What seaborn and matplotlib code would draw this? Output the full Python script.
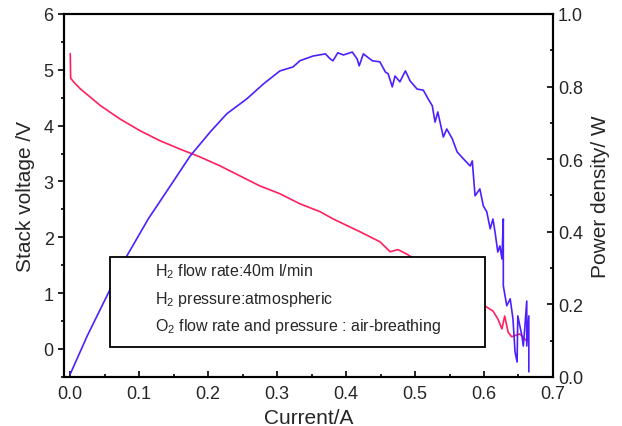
import matplotlib
matplotlib.use("Agg")
import matplotlib.pyplot as plt
import seaborn as sns
import pandas as pd
from matplotlib.patches import Rectangle
from matplotlib.ticker import MultipleLocator

# stack voltage vs current
volt_current = [0.0, 0.0005, 0.005, 0.0145, 0.03, 0.0435, 0.072, 0.101, 0.13, 0.159,
                0.188, 0.217, 0.246, 0.275, 0.304, 0.333, 0.362, 0.381, 0.42, 0.449,
                0.464, 0.475, 0.488, 0.51, 0.55, 0.58, 0.60, 0.604, 0.613, 0.62,
                0.626, 0.63, 0.635, 0.64, 0.652, 0.662]
volt_values = [5.29, 4.85, 4.78, 4.66, 4.50, 4.36, 4.12, 3.91, 3.73, 3.58,
               3.44, 3.28, 3.10, 2.92, 2.78, 2.60, 2.46, 2.33, 2.10, 1.92,
               1.74, 1.78, 1.70, 1.53, 1.18, 1.02, 0.78, 0.75, 0.68, 0.54,
               0.36, 0.59, 0.30, 0.22, 0.27, 0.14]

# power density vs current
pow_current = [0.0, 0.0246, 0.058, 0.082, 0.113, 0.145, 0.174, 0.203, 0.227, 0.256,
               0.28, 0.304, 0.323, 0.333, 0.352, 0.370, 0.377, 0.381, 0.388, 0.396,
               0.409, 0.416, 0.419, 0.425, 0.438, 0.449, 0.457, 0.461, 0.467, 0.471,
               0.478, 0.486, 0.493, 0.503, 0.512, 0.519, 0.525, 0.529, 0.533, 0.541,
               0.546, 0.554, 0.561, 0.570, 0.580, 0.583, 0.587, 0.594, 0.599, 0.604,
               0.609, 0.613, 0.616, 0.620, 0.623, 0.626, 0.628, 0.628, 0.633, 0.638,
               0.642, 0.645, 0.648, 0.649, 0.655, 0.657, 0.659, 0.662, 0.662, 0.665,
               0.665]
pow_values = [0.008, 0.113, 0.242, 0.333, 0.435, 0.526, 0.609, 0.675, 0.725, 0.766,
              0.807, 0.843, 0.854, 0.871, 0.884, 0.890, 0.876, 0.871, 0.893, 0.887,
              0.895, 0.876, 0.857, 0.890, 0.871, 0.868, 0.840, 0.835, 0.799, 0.829,
              0.813, 0.843, 0.815, 0.793, 0.790, 0.766, 0.747, 0.702, 0.730, 0.661,
              0.683, 0.656, 0.620, 0.601, 0.581, 0.595, 0.499, 0.518, 0.471, 0.455,
              0.408, 0.435, 0.399, 0.344, 0.361, 0.325, 0.435, 0.251, 0.196, 0.215,
              0.160, 0.069, 0.041, 0.168, 0.113, 0.085, 0.132, 0.209, 0.085, 0.168,
              0.014]

notes = [r"H$_2$ flow rate:40m l/min",
         r"H$_2$ pressure:atmospheric",
         r"O$_2$ flow rate and pressure : air-breathing"]

sns.set_style("ticks")
plt.rcParams["font.family"] = ["Liberation Sans", "DejaVu Sans"]
plt.rcParams["mathtext.fontset"] = "custom"
plt.rcParams["mathtext.rm"] = "Liberation Sans"

volt = pd.DataFrame({"current": volt_current, "voltage": volt_values})
power = pd.DataFrame({"current": pow_current, "power": pow_values})

fig = plt.figure(figsize=(6.22, 4.27), dpi=100)
ax = fig.add_axes([0.103, 0.115, 0.786, 0.85])
sns.lineplot(data=volt, x="current", y="voltage", ax=ax, color="#FF1F5E",
             lw=1.2, sort=False, estimator=None)
ax.set_xlim(-0.009, 0.7)
ax.set_ylim(-0.5, 6)
ax.xaxis.set_major_locator(MultipleLocator(0.1))
ax.xaxis.set_minor_locator(MultipleLocator(0.05))
ax.yaxis.set_major_locator(MultipleLocator(1))
ax.yaxis.set_minor_locator(MultipleLocator(0.5))
ax.xaxis.set_major_formatter(plt.FuncFormatter(lambda v, p: f"{v:.1f}"))
ax.tick_params(axis="x", direction="in", labelsize=13, pad=6)
ax.tick_params(axis="x", which="minor", direction="in")
ax.tick_params(axis="y", direction="out", labelsize=13)
ax.tick_params(axis="y", which="minor", direction="out")
ax.set_xlabel("Current/A", fontsize=15)
ax.set_ylabel("Stack voltage /V", fontsize=15, labelpad=6)

ax2 = ax.twinx()
sns.lineplot(data=power, x="current", y="power", ax=ax2, color="#4D1FFF",
             lw=1.2, sort=False, estimator=None)
ax2.set_ylim(0, 1.0)
ax2.yaxis.set_major_locator(MultipleLocator(0.2))
ax2.yaxis.set_minor_locator(MultipleLocator(0.1))
ax2.yaxis.set_major_formatter(plt.FuncFormatter(lambda v, p: f"{v:.1f}"))
ax2.tick_params(axis="y", direction="in", labelsize=13)
ax2.tick_params(axis="y", which="minor", direction="in")
ax2.set_ylabel("Power density/ W", fontsize=15, labelpad=6)

for a in (ax, ax2):
    for s in a.spines.values():
        s.set_linewidth(1.5)
        s.set_color("black")
    a.tick_params(which="major", length=4, width=1.2, color="black")
    a.tick_params(which="minor", length=2.5, width=1.2, color="black")

ax2.add_patch(Rectangle((0.094, 0.083), 0.767, 0.247, transform=ax2.transAxes,
                        facecolor="white", edgecolor="black", lw=1.3, zorder=5))
for i, line in enumerate(notes):
    ax2.text(0.186, 0.292 - i * 0.075, line, transform=ax2.transAxes,
             fontsize=11.5, va="center", ha="left", zorder=6)

fig.savefig("out.png", dpi=100)
